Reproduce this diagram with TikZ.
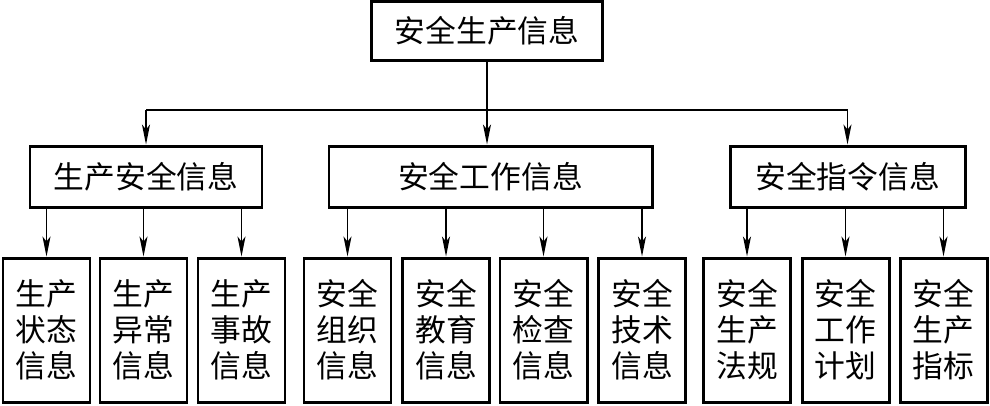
\documentclass[tikz,border=0pt]{standalone}
\usepackage{fontspec}
\newfontfamily\cjkfont{Noto Sans CJK SC}
\usetikzlibrary{arrows.meta}

\begin{document}
\begin{tikzpicture}[
      hbox/.style={rectangle, draw, line width=1.7pt, minimum height=1.22cm,
                   inner sep=0pt, font=\cjkfont\fontsize{17.5}{20.5}\selectfont},
      leaf/.style={rectangle, draw, line width=1.7pt, minimum width=1.74cm,
                   minimum height=2.88cm, inner sep=0pt, align=center,
                   font=\cjkfont\fontsize{17.5}{20.5}\selectfont},
      arr/.style={-{Stealth[length=4mm, width=1.6mm, inset=1mm]}, line width=0.8pt}
    ]
    \useasboundingbox (0,0) rectangle (19.8,-8.1);

    \node[hbox, minimum width=4.62cm, minimum height=1.18cm] (top) at (9.74,-0.62)
          {安全生产信息};
    \node[hbox, minimum width=4.64cm] (L) at (2.92,-3.53)  {生产安全信息};
    \node[hbox, minimum width=6.46cm] (M) at (9.81,-3.53)  {安全工作信息};
    \node[hbox, minimum width=4.70cm] (R) at (16.95,-3.53) {安全指令信息};

    \coordinate (bus) at (9.74,-2.2);
    \draw[arr] (top.south) -- (top.south |- M.north);
    \draw[line width=0.8pt] (bus -| L.north) -- (bus -| R.north);
    \draw[arr] (bus -| L.north) -- (L.north);
    \draw[arr] (bus -| R.north) -- (R.north);

    \foreach \n/\x/\p/\t in {a1/0.93/L/{生产\\状态\\信息}, a2/2.87/L/{生产\\异常\\信息},
        a3/4.83/L/{生产\\事故\\信息}, b1/6.95/M/{安全\\组织\\信息},
        b2/8.92/M/{安全\\教育\\信息}, b3/10.87/M/{安全\\检查\\信息},
        b4/12.84/M/{安全\\技术\\信息}, c1/14.94/R/{安全\\生产\\法规},
        c2/16.91/R/{安全\\工作\\计划}, c3/18.87/R/{安全\\生产\\指标}}{
      \node[leaf] (\n) at (\x,-6.6) {\t};
      \draw[arr] (\n.north |- \p.south) -- (\n.north);
    }
  \end{tikzpicture}
\end{document}
